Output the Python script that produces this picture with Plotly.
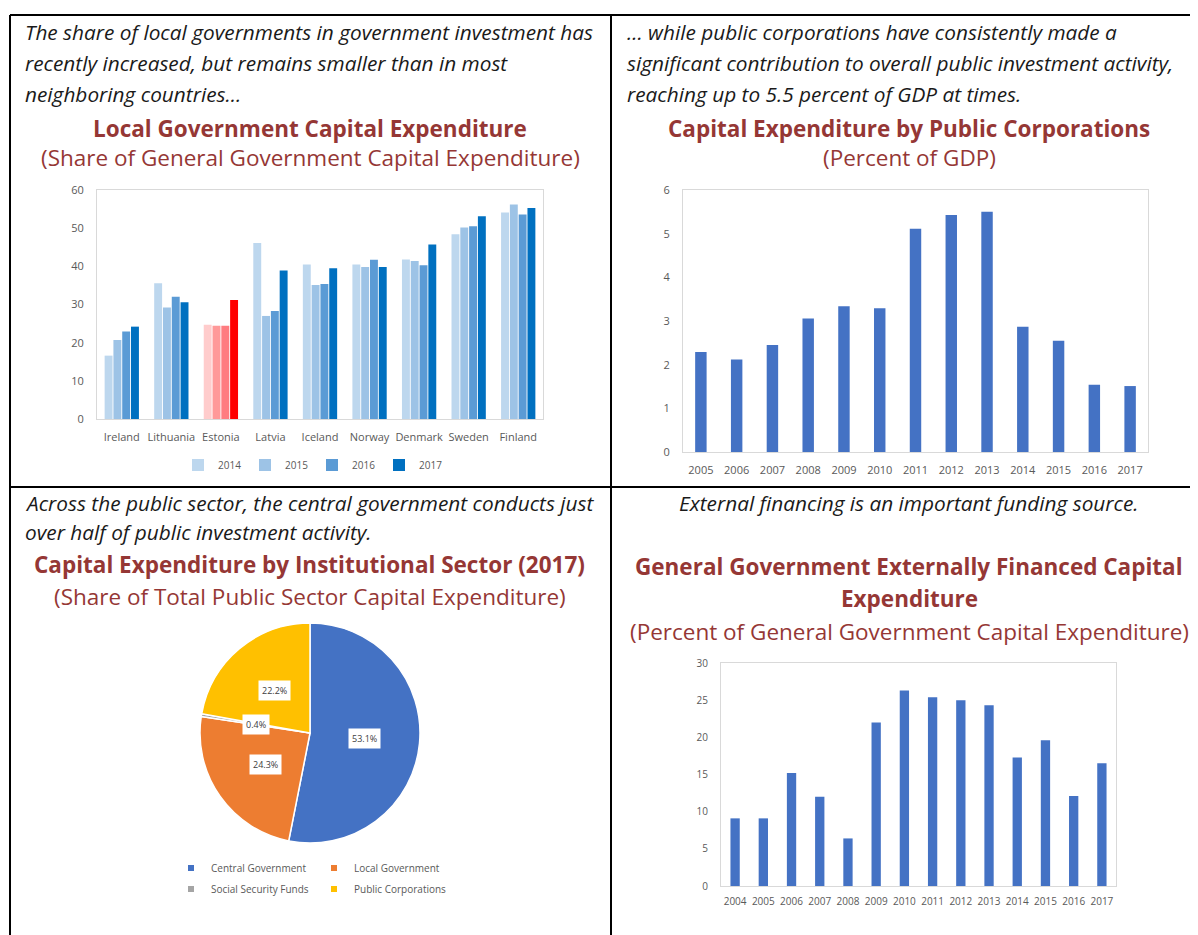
import math

import plotly.graph_objects as go

# page body adds an 8px margin, so the figure is offset to line up with the window
OX, OY = 8, 8
W, H = 1198 - OX, 935 - OY

# ---- data ----
countries = ["Ireland", "Lithuania", "Estonia", "Latvia", "Iceland",
             "Norway", "Denmark", "Sweden", "Finland"]
local_years = ["2014", "2015", "2016", "2017"]
local_2014 = [16.6, 35.6, 24.7, 46.1, 40.5, 40.5, 41.8, 48.4, 54.1]
local_2015 = [20.7, 29.2, 24.4, 27.0, 35.1, 39.8, 41.4, 50.2, 56.2]
local_2016 = [22.9, 32.0, 24.4, 28.3, 35.4, 41.7, 40.3, 50.5, 53.6]
local_2017 = [24.2, 30.6, 31.2, 38.9, 39.5, 39.8, 45.7, 53.1, 55.3]

corp_years = ["2005", "2006", "2007", "2008", "2009", "2010", "2011",
              "2012", "2013", "2014", "2015", "2016", "2017"]
corp_capex = [2.29, 2.12, 2.45, 3.06, 3.34, 3.29, 5.11, 5.43, 5.50,
              2.87, 2.55, 1.54, 1.51]

sectors = ["Central Government", "Local Government",
           "Social Security Funds", "Public Corporations"]
sector_share = [53.1, 24.3, 0.4, 22.2]

ext_years = ["2004", "2005", "2006", "2007", "2008", "2009", "2010",
             "2011", "2012", "2013", "2014", "2015", "2016", "2017"]
ext_financed = [9.1, 9.1, 15.2, 12.0, 6.4, 22.0, 26.3, 25.4, 25.0,
                24.3, 17.3, 19.6, 12.1, 16.5]

# ---- styling ----
year_colors = ["#BDD7EE", "#9DC3E6", "#5B9BD5", "#0070C0"]
estonia_colors = ["#FFCCCC", "#FF9999", "#FF7C80", "#FF0000"]
bar_blue = "#4472C4"
pie_colors = ["#4472C4", "#ED7D31", "#A5A5A5", "#FFC000"]
red_title = "#953735"
tick_grey = "#595959"
box_grey = "#D9D9D9"
FONT = "Open Sans"


def px(x):
    # window pixel -> paper x
    return (x - OX) / W


def py(y):
    # window pixel -> paper y
    return 1 - (y - OY) / H


fig = go.Figure()

# Local government grouped bars (Estonia highlighted in red)
local_series = [local_2014, local_2015, local_2016, local_2017]
for i, (yr, vals) in enumerate(zip(local_years, local_series)):
    cols = [estonia_colors[i] if c == "Estonia" else year_colors[i] for c in countries]
    fig.add_trace(go.Bar(
        x=countries, y=vals, name=yr,
        marker=dict(color=cols, line=dict(width=0)),
        xaxis="x", yaxis="y", legend="legend",
    ))

# Public corporations
fig.add_trace(go.Bar(
    x=corp_years, y=corp_capex, width=0.32,
    marker=dict(color=bar_blue, line=dict(width=0)),
    xaxis="x2", yaxis="y2", showlegend=False,
))

# Externally financed
fig.add_trace(go.Bar(
    x=ext_years, y=ext_financed, width=0.33,
    marker=dict(color=bar_blue, line=dict(width=0)),
    xaxis="x3", yaxis="y3", showlegend=False,
))

# Pie by institutional sector
pie_cx, pie_cy, pie_r = 310, 733, 110
fig.add_trace(go.Pie(
    labels=sectors, values=sector_share, sort=False, direction="clockwise",
    marker=dict(colors=pie_colors, line=dict(color="white", width=1.5)),
    textinfo="none", hoverinfo="label+percent", showlegend=False,
    domain=dict(x=[px(pie_cx - pie_r), px(pie_cx + pie_r)],
                y=[py(pie_cy + pie_r), py(pie_cy - pie_r)]),
))

# legend-only entries for the pie (two rows)
for i, (lab, col) in enumerate(zip(sectors, pie_colors)):
    fig.add_trace(go.Scatter(
        x=[None], y=[None], mode="markers", name=lab,
        marker=dict(symbol="square", size=6, color=col),
        xaxis="x4", yaxis="y4",
        legend="legend2" if i < 2 else "legend3",
    ))

# data labels for the pie, placed at half radius on each slice's mid angle
total = sum(sector_share)
cum = 0
annotations = []
for v in sector_share:
    mid = (cum + v / 2) / total * 2 * math.pi
    cum += v
    lx = pie_cx + 0.5 * pie_r * math.sin(mid)
    ly = pie_cy - 0.5 * pie_r * math.cos(mid)
    annotations.append(dict(
        x=px(lx), y=py(ly), xref="paper", yref="paper", showarrow=False,
        xanchor="center", yanchor="middle",
        text=f"{v:.1f}%", bgcolor="white", borderpad=3,
        font=dict(family=FONT, size=9, color="#404040"),
    ))


# ---- panel text ----
def caption(text, x, y, anchor="left", size=20.8):
    annotations.append(dict(
        x=px(x), y=py(y), xref="paper", yref="paper", showarrow=False,
        xanchor=anchor, yanchor="middle", text=f"<i>{text}</i>",
        font=dict(family=FONT, size=size, color="#1a1a1a"),
    ))


def heading(text, x, y, bold=True, size=22.5):
    annotations.append(dict(
        x=px(x), y=py(y), xref="paper", yref="paper", showarrow=False,
        xanchor="center", yanchor="middle",
        text=f"<b>{text}</b>" if bold else text,
        font=dict(family=FONT, size=size, color=red_title),
    ))


caption("The share of local governments in government investment has", 23, 32)
caption("recently increased, but remains smaller than in most", 23, 63)
caption("neighboring countries...", 23, 94)
heading("Local Government Capital Expenditure", 310, 128)
heading("(Share of General Government Capital Expenditure)", 310, 158, bold=False)

caption("... while public corporations have consistently made a", 625, 32)
caption("significant contribution to overall public investment activity,", 625, 63)
caption("reaching up to 5.5 percent of GDP at times.", 625, 94)
heading("Capital Expenditure by Public Corporations", 909, 128)
heading("(Percent of GDP)", 909, 158, bold=False)

caption("Across the public sector, the central government conducts just", 23, 503)
caption("over half of public investment activity.", 23, 532)
heading("Capital Expenditure by Institutional Sector (2017)", 309, 564)
heading("(Share of Total Public Sector Capital Expenditure)", 310, 596, bold=False)

caption("External financing is an important funding source.", 909, 503, anchor="center")
heading("General Government Externally Financed Capital", 909, 566)
heading("Expenditure", 909, 598)
heading("(Percent of General Government Capital Expenditure)", 909, 631, bold=False)

# ---- panel borders ----
shapes = []
for x0, y0, x1, y1 in [(10, 15, 1198, 15), (10, 15, 10, 935), (611, 15, 611, 935), (10, 487, 1198, 487)]:
    shapes.append(dict(type="line", xref="paper", yref="paper",
                       x0=px(x0), y0=py(y0), x1=px(x1), y1=py(y1),
                       line=dict(color="black", width=2)))

axis_common = dict(showline=True, mirror=True, linecolor=box_grey, linewidth=1,
                   showgrid=False, zeroline=False, ticks="",
                   tickfont=dict(family=FONT, size=11, color=tick_grey))
small_ticks = {**axis_common, "tickfont": dict(family=FONT, size=10, color=tick_grey)}

fig.update_layout(
    width=W, height=H,
    margin=dict(l=0, r=0, t=0, b=0, autoexpand=False),
    paper_bgcolor="white", plot_bgcolor="white",
    barmode="group", bargap=0.29, bargroupgap=0.1,
    font=dict(family=FONT),
    xaxis=dict(domain=[px(97), px(543)], anchor="y", type="category",
               ticklabelstandoff=8, **axis_common),
    yaxis=dict(domain=[py(419), py(190)], anchor="x", range=[0, 60], dtick=10,
               ticklabelstandoff=10, **axis_common),
    xaxis2=dict(domain=[px(683), px(1148)], anchor="y2", type="category",
                ticklabelstandoff=8, **axis_common),
    yaxis2=dict(domain=[py(452), py(190)], anchor="x2", range=[0, 6], dtick=1,
                ticklabelstandoff=10, **axis_common),
    xaxis3=dict(domain=[px(721), px(1116)], anchor="y3", type="category",
                ticklabelstandoff=6, **small_ticks),
    yaxis3=dict(domain=[py(886), py(663)], anchor="x3", range=[0, 30], dtick=5,
                ticklabelstandoff=10, **small_ticks),
    xaxis4=dict(domain=[0, 0.01], anchor="y4", visible=False),
    yaxis4=dict(domain=[0, 0.01], anchor="x4", visible=False),
    legend=dict(orientation="h", x=px(312), xanchor="center", y=py(465), yanchor="middle",
                font=dict(family=FONT, size=10, color=tick_grey),
                bgcolor="rgba(0,0,0,0)", itemwidth=30, entrywidth=22),
    legend2=dict(orientation="h", x=px(314), xanchor="center", y=py(868), yanchor="middle",
                 font=dict(family=FONT, size=10, color=tick_grey),
                 bgcolor="rgba(0,0,0,0)", itemwidth=30, entrywidth=98),
    legend3=dict(orientation="h", x=px(314), xanchor="center", y=py(889), yanchor="middle",
                 font=dict(family=FONT, size=10, color=tick_grey),
                 bgcolor="rgba(0,0,0,0)", itemwidth=30, entrywidth=98),
    annotations=annotations,
    shapes=shapes,
)

fig.write_html("out.html")
